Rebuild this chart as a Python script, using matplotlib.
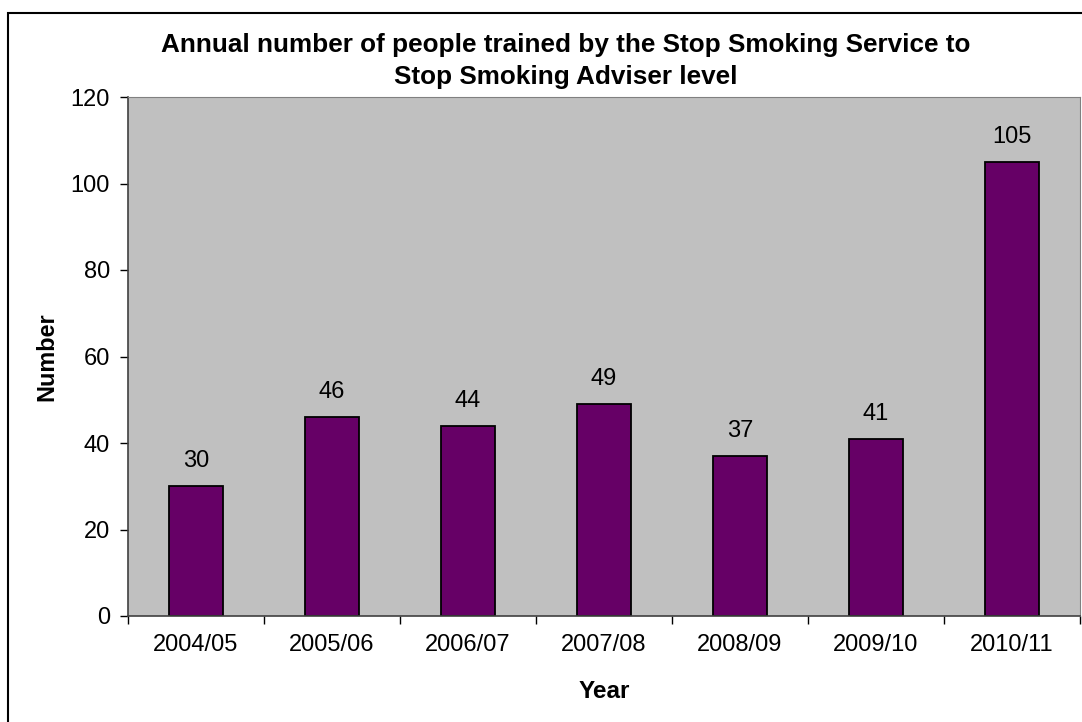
import matplotlib.pyplot as plt
import matplotlib.patches as patches
import numpy as np

plt.rcParams['font.family'] = ['Liberation Sans', 'DejaVu Sans']

years = ['2004/05', '2005/06', '2006/07', '2007/08', '2008/09', '2009/10', '2010/11']
trained = [30, 46, 44, 49, 37, 41, 105]

fig = plt.figure(figsize=(10.82, 7.22), dpi=100)
ax = fig.add_axes([128/1082, 1-616/722, (1080-128)/1082, (616-97)/722])

x = np.arange(len(years))
ax.set_facecolor('#C0C0C0')
bars = ax.bar(x, trained, width=0.4, color='#660066', edgecolor='black', linewidth=1.3, zorder=2)

for b, v in zip(bars, trained):
    ax.annotate(str(v), xy=(b.get_x()+b.get_width()/2, v), xytext=(0, 10), textcoords='offset points',
                ha='center', va='bottom', fontsize=17)

ax.set_xlim(-0.5, len(years)-0.5)
ax.set_ylim(0, 120)
ax.set_yticks(range(0, 121, 20))
ax.tick_params(axis='y', labelsize=17, length=6, width=1, pad=7)
ax.set_xticks(x)
ax.set_xticklabels(years)
ax.set_xticks(np.arange(-0.5, len(years), 1), minor=True)
ax.tick_params(axis='x', which='major', length=0, labelsize=17, pad=13)
ax.tick_params(axis='x', which='minor', length=6, width=1)

for s in ['top', 'right']:
    ax.spines[s].set_color('#808080')
for s in ['left', 'bottom']:
    ax.spines[s].set_color('#404040')
    ax.spines[s].set_linewidth(1.2)

fig.text(566/1082, 1-45/722, 'Annual number of people trained by the Stop Smoking Service to',
         ha='center', va='center', fontsize=18.8, fontweight='bold')
fig.text(566/1082, 1-77/722, 'Stop Smoking Adviser level',
         ha='center', va='center', fontsize=18.8, fontweight='bold')
fig.text(47/1082, 1-357/722, 'Number', rotation=90, ha='center', va='center', fontsize=16.8, fontweight='bold')
fig.text(604/1082, 1-691/722, 'Year', ha='center', va='center', fontsize=17.5, fontweight='bold')

# outer chart border (cut off at right/bottom)
fig.patches.append(patches.Rectangle((8/1082, -0.1), 1.2, 0.1+1-13/722, transform=fig.transFigure,
                                     fill=False, edgecolor='black', linewidth=1.5))

plt.savefig('out.png', dpi=100)
